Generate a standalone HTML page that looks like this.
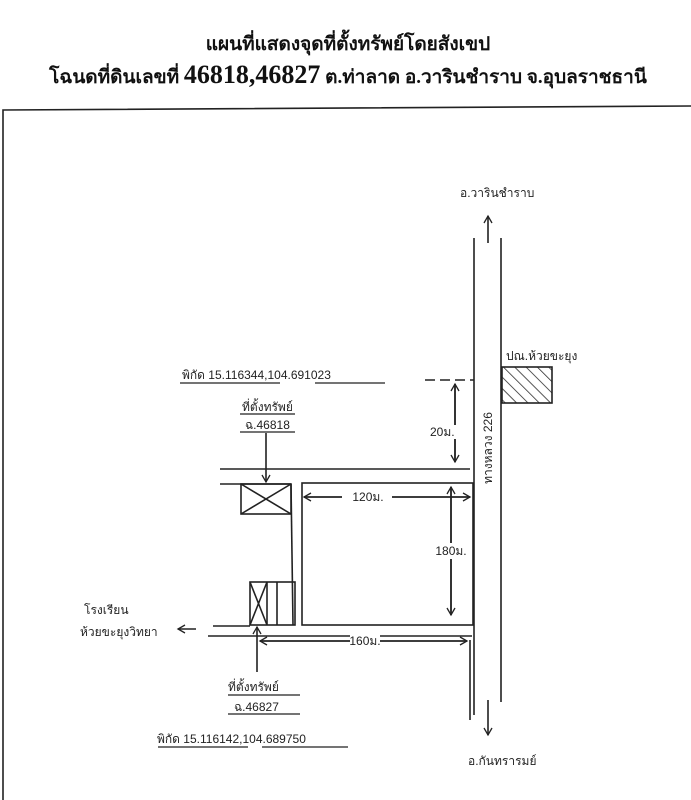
<!DOCTYPE html>
<html><head><meta charset="utf-8"><style>
html,body{margin:0;padding:0;background:#fff;}
svg{display:block;}
.t{font-family:"Liberation Serif","Noto Serif CJK SC","Noto Sans CJK SC",serif;font-weight:bold;fill:#111;}
.h{font-family:"Liberation Sans","Noto Sans CJK SC",sans-serif;fill:#222;font-size:12px;}
</style></head><body>
<svg width="691" height="800" viewBox="0 0 691 800" xmlns="http://www.w3.org/2000/svg">
<defs><marker id="a" markerWidth="10" markerHeight="10" refX="8" refY="5" orient="auto" markerUnits="userSpaceOnUse"><path d="M1,1 L8,5 L1,9" fill="none" stroke="#222" stroke-width="1.3"/></marker>
<pattern id="hp" width="8" height="8" patternUnits="userSpaceOnUse" patternTransform="rotate(-45)"><line x1="0" y1="0" x2="0" y2="8" stroke="#222" stroke-width="1.5"/></pattern></defs>
<rect width="691" height="800" fill="#fff"/>
<text class="t" x="348" y="50" font-size="19" text-anchor="middle">แผนที่แสดงจุดที่ตั้งทรัพย์โดยสังเขป</text>
<text class="t" x="348" y="83" font-size="19" text-anchor="middle">โฉนดที่ดินเลขที่ <tspan font-size="26">46818,46827</tspan> ต.ท่าลาด อ.วารินชำราบ จ.อุบลราชธานี</text>
<g stroke="#222" stroke-width="1.6" fill="none">
<path d="M3,800 L3,110 L691,106"/>
<line x1="474" y1="238" x2="474" y2="715"/>
<line x1="501" y1="238" x2="501" y2="702"/>
<line x1="488" y1="243" x2="488" y2="216" marker-end="url(#a)"/>
<line x1="488" y1="700" x2="488" y2="735" marker-end="url(#a)"/>
<line x1="425" y1="380" x2="474" y2="380" stroke-dasharray="10,5"/>
<line x1="455" y1="384" x2="455" y2="462" marker-end="url(#a)"/>
<line x1="455" y1="462" x2="455" y2="384" marker-end="url(#a)"/>
<rect x="502" y="367" width="50" height="36" fill="url(#hp)"/>
<line x1="220" y1="469" x2="470" y2="469"/>
<line x1="220" y1="484" x2="291" y2="484"/>
<rect x="241" y="484" width="50" height="30"/>
<line x1="241" y1="484" x2="291" y2="514"/><line x1="291" y1="484" x2="241" y2="514"/>
<line x1="291" y1="484" x2="293" y2="625"/>
<rect x="302" y="483" width="171" height="142"/>
<line x1="266" y1="433" x2="266" y2="482" marker-end="url(#a)"/>
<line x1="304" y1="497" x2="470" y2="497" marker-end="url(#a)"/>
<line x1="470" y1="497" x2="304" y2="497" marker-end="url(#a)"/>
<line x1="451" y1="487" x2="451" y2="615" marker-end="url(#a)"/>
<line x1="451" y1="615" x2="451" y2="487" marker-end="url(#a)"/>
<rect x="250" y="582" width="45" height="43"/>
<line x1="267" y1="582" x2="267" y2="625"/><line x1="277" y1="582" x2="277" y2="625"/>
<line x1="250" y1="582" x2="267" y2="625"/><line x1="267" y1="582" x2="250" y2="625"/>
<line x1="213" y1="626" x2="250" y2="626"/>
<line x1="196" y1="629" x2="178" y2="629" marker-end="url(#a)"/>
<line x1="208" y1="636" x2="472" y2="636"/>
<line x1="470" y1="640" x2="470" y2="720"/>
<line x1="257" y1="672" x2="257" y2="627" marker-end="url(#a)"/>
<line x1="260" y1="641" x2="467" y2="641" marker-end="url(#a)"/>
<line x1="467" y1="641" x2="260" y2="641" marker-end="url(#a)"/>
</g>
<g stroke="#222" stroke-width="1.2">
<line x1="180" y1="383" x2="280" y2="383"/><line x1="315" y1="383" x2="385" y2="383"/>
<line x1="240" y1="414" x2="295" y2="414"/><line x1="240" y1="432" x2="295" y2="432"/>
<line x1="228" y1="695" x2="300" y2="695"/><line x1="228" y1="714" x2="300" y2="714"/>
<line x1="158" y1="747" x2="248" y2="747"/><line x1="262" y1="747" x2="348" y2="747"/>
</g>
<g fill="#fff"><rect x="444" y="425" width="22" height="14"/><rect x="342" y="490" width="50" height="14"/><rect x="441" y="543" width="20" height="16"/><rect x="350" y="634" width="30" height="14"/></g>
<text class="h" x="460" y="197">อ.วารินชำราบ</text>
<text class="h" x="506" y="360">ปณ.ห้วยขะยุง</text>
<text class="h" x="182" y="379">พิกัด 15.116344,104.691023</text>
<text class="h" x="242" y="411">ที่ตั้งทรัพย์</text>
<text class="h" x="245" y="429" font-size="11">ฉ.46818</text>
<text class="h" x="430" y="436" font-size="11">20ม.</text>
<text class="h" x="368" y="501" font-size="11" text-anchor="middle">120ม.</text>
<text class="h" x="451" y="555" font-size="11" text-anchor="middle">180ม.</text>
<text class="h" x="365" y="645" font-size="11" text-anchor="middle">160ม.</text>
<text class="h" transform="translate(492,448) rotate(-90)" text-anchor="middle">ทางหลวง 226</text>
<text class="h" x="84" y="614">โรงเรียน</text>
<text class="h" x="80" y="636">ห้วยขะยุงวิทยา</text>
<text class="h" x="228" y="691">ที่ตั้งทรัพย์</text>
<text class="h" x="234" y="711" font-size="11">ฉ.46827</text>
<text class="h" x="157" y="743">พิกัด 15.116142,104.689750</text>
<text class="h" x="468" y="765">อ.กันทรารมย์</text>
</svg>
</body></html>
